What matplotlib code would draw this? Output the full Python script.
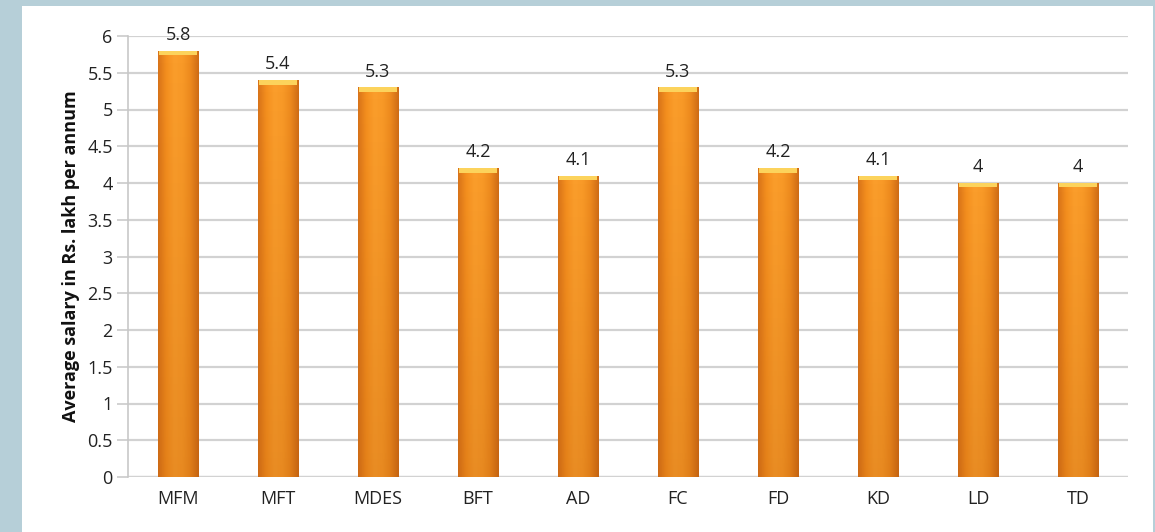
import numpy as np
import matplotlib.pyplot as plt
from matplotlib.patches import Rectangle
from matplotlib.colors import LinearSegmentedColormap

courses = ["MFM", "MFT", "MDES", "BFT", "AD", "FC", "FD", "KD", "LD", "TD"]
salary = [5.8, 5.4, 5.3, 4.2, 4.1, 5.3, 4.2, 4.1, 4.0, 4.0]
value_labels = ["5.8", "5.4", "5.3", "4.2", "4.1", "5.3", "4.2", "4.1", "4", "4"]
yticks = [0, 0.5, 1, 1.5, 2, 2.5, 3, 3.5, 4, 4.5, 5, 5.5, 6]
ytick_labels = ["0", "0.5", "1", "1.5", "2", "2.5", "3", "3.5", "4", "4.5", "5", "5.5", "6"]

plt.rcParams['font.family'] = ['Open Sans', 'DejaVu Sans']

fig = plt.figure(figsize=(11.55, 5.32), dpi=100)
fig.patch.set_facecolor("#b6cfd8")
# white chart panel, behind the axes
panel = Rectangle((22 / 1155, 0), 1131 / 1155, 526 / 532,
                  transform=fig.transFigure, facecolor="white",
                  edgecolor="none", zorder=-5)
fig.add_artist(panel)

ax = fig.add_axes([128 / 1155, (532 - 477) / 532, 1000 / 1155, 441 / 532])
ax.set_zorder(2)
ax.set_facecolor("none")

# horizontal shading for the cylinder look
bar_cmap = LinearSegmentedColormap.from_list(
    "barshade", ["#d9741a", "#f5901f", "#fb9e2c", "#f99a28", "#ee8a1e", "#cf6c16"])
grad = np.linspace(0, 1, 64).reshape(1, -1)
vgrad = np.linspace(0, 1, 64).reshape(-1, 1)

x = np.arange(len(courses))
width = 0.41
bars = ax.bar(x, salary, width=width, color="#f59420", edgecolor="none", zorder=2)
for b, v in zip(bars, salary):
    x0 = b.get_x()
    img = grad * np.ones((64, 1))
    im = ax.imshow(img, cmap=bar_cmap, extent=(x0, x0 + width, 0, v),
                   aspect="auto", origin="lower", zorder=3)
    im.set_clip_path(b)
    # a little darker toward the bottom
    shade = np.zeros((64, 1, 4))
    shade[..., 0] = 0.6
    shade[..., 1] = 0.25
    shade[..., 3] = (1 - vgrad) * 0.18
    sh = ax.imshow(shade, extent=(x0, x0 + width, 0, v), aspect="auto",
                   origin="lower", zorder=4)
    sh.set_clip_path(b)
    # light top cap
    ax.add_patch(Rectangle((x0 + 0.015, v - 0.06), width - 0.03, 0.06,
                           facecolor="#fcd35c", edgecolor="none", zorder=5))

for xi, v, lab in zip(x, salary, value_labels):
    ax.annotate(lab, (xi, v), xytext=(0, 5), textcoords="offset points",
                ha="center", va="bottom", fontsize=13, color="#222222")

ax.set_xlim(-0.5, len(courses) - 0.5)
ax.set_ylim(0, 6)
ax.set_yticks(yticks)
ax.set_yticklabels(ytick_labels)
ax.set_xticks(x)
ax.set_xticklabels(courses)
ax.yaxis.grid(True, color="#d2d2d2", linewidth=1.6, zorder=0)
ax.set_axisbelow(True)
for s in ["top", "right", "bottom"]:
    ax.spines[s].set_visible(False)
ax.spines["left"].set_color("#c8c8c8")
ax.spines["left"].set_linewidth(1.2)
ax.tick_params(axis="y", length=8, color="#d2d2d2", width=1.4,
               labelsize=13, labelcolor="#222222", pad=3)
ax.tick_params(axis="x", length=0, labelsize=13, labelcolor="#222222", pad=9)
ax.axhline(0, color="#d2d2d2", linewidth=1.6, zorder=1)

ax.set_ylabel("Average salary in Rs. lakh per annum", fontsize=13,
              fontweight="bold", color="#111111", labelpad=5)

fig.savefig("out.png", dpi=100)
